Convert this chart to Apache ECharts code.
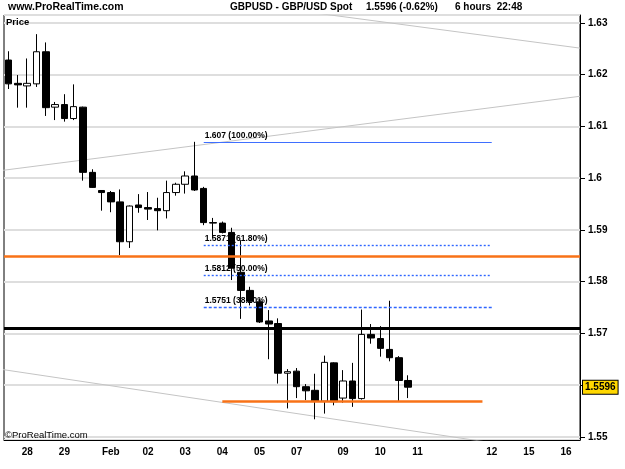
<!DOCTYPE html>
<html lang="en" style="height: 100%">
<head>
  <meta charset="utf-8">
</head>
<body style="height: 100%; margin: 0; background: #fff">
  <div id="container" style="width: 625px; height: 469px"></div>
  <script type="text/javascript" src="https://cdn.jsdelivr.net/npm/echarts@6/dist/echarts.min.js"></script>
  <script type="text/javascript">
    // 6-hour candles, GBPUSD: [open, close, low, high]
    var candles = [
      [1.6228, 1.6182, 1.6172, 1.6245], [1.6183, 1.6180, 1.6136, 1.6199], [1.6178, 1.6183, 1.6136, 1.6231],
      [1.6182, 1.6244, 1.6176, 1.6278], [1.6244, 1.6136, 1.6120, 1.6262], [1.6137, 1.6142, 1.6112, 1.6147],
      [1.6142, 1.6115, 1.6109, 1.6162], [1.6115, 1.6138, 1.6112, 1.6181], [1.6137, 1.6011, 1.5995, 1.6138],
      [1.6011, 1.5982, 1.5981, 1.6017], [1.5976, 1.5972, 1.5937, 1.5976], [1.5972, 1.5954, 1.5934, 1.5975],
      [1.5954, 1.5877, 1.5851, 1.5978], [1.5877, 1.5946, 1.5865, 1.5947], [1.5948, 1.5943, 1.5933, 1.5969],
      [1.5943, 1.5940, 1.5919, 1.5973], [1.5941, 1.5937, 1.5899, 1.5962], [1.5937, 1.5972, 1.5922, 1.5995],
      [1.5972, 1.5988, 1.5966, 1.5991], [1.5988, 1.6004, 1.5970, 1.6013], [1.6004, 1.5977, 1.5975, 1.6070],
      [1.5980, 1.5914, 1.5909, 1.5983], [1.5914, 1.5913, 1.5883, 1.5923], [1.5913, 1.5895, 1.5893, 1.5916],
      [1.5895, 1.5826, 1.5803, 1.5904], [1.5818, 1.5783, 1.5728, 1.5880], [1.5783, 1.5762, 1.5754, 1.5790],
      [1.5761, 1.5722, 1.5720, 1.5767], [1.5724, 1.5718, 1.5650, 1.5745], [1.5719, 1.5623, 1.5603, 1.5729],
      [1.5623, 1.5626, 1.5555, 1.5631], [1.5627, 1.5597, 1.5575, 1.5633], [1.5597, 1.5589, 1.5571, 1.5602],
      [1.5590, 1.5569, 1.5534, 1.5622], [1.5569, 1.5644, 1.5545, 1.5657], [1.5643, 1.5568, 1.5561, 1.5644],
      [1.5575, 1.5608, 1.5566, 1.5629], [1.5608, 1.5574, 1.5558, 1.5643], [1.5574, 1.5698, 1.5572, 1.5746],
      [1.5698, 1.5691, 1.5680, 1.5718], [1.5690, 1.5671, 1.5655, 1.5714], [1.5669, 1.5653, 1.5646, 1.5763],
      [1.5653, 1.5609, 1.5569, 1.5656], [1.5609, 1.5596, 1.5575, 1.5619]
    ];
    var slotCount = 62; // includes empty future slots
    var dayLabels = ['28', '29', 'Feb', '02', '03', '04', '05', '07', '09', '10', '11', '12', '15', '16'];
    var dayLabelSlots = [2, 6, 11, 15, 19, 23, 27, 31, 36, 40, 44, 52, 56, 60];
    var lastPrice = 1.5596;

    // horizontal levels
    var supportLevel = 1.5848;   // orange, full width
    var resistLevel = 1.5709;    // black, full width
    var lowLevel = 1.5568;       // orange segment
    var lowLevelSlots = [23, 51];
    var fibLevels = [1.607, 1.5871, 1.5812, 1.5751];
    var fibLabels = ['1.607 (100.00%)', '1.5871 (61.80%)', '1.5812 (50.00%)', '1.5751 (38.20%)'];
    var fibTypes = ['solid', [2, 2], [2, 2], [3, 2]];
    var fibSlots = [21, 52];

    // trend lines: [slot, price] end points
    var trendLines = [
      [[25, 1.6338], [61.5, 1.6251]],
      [[-0.6, 1.6015], [61.5, 1.6158]],
      [[-0.6, 1.5630], [53, 1.5486]]
    ];

    var font = 'Liberation Sans, Arial, sans-serif';
    var categories = [];
    for (var i = 0; i < slotCount; i++) categories.push('c' + i);
    var labelAt = {};
    dayLabelSlots.forEach(function (s, k) { labelAt[s] = dayLabels[k]; });

    var markData = [
      { yAxis: supportLevel, lineStyle: { color: '#f87217', width: 2.5, type: 'solid' } },
      { yAxis: resistLevel, lineStyle: { color: '#000', width: 3, type: 'solid' } },
      [
        { coord: ['c' + lowLevelSlots[0], lowLevel], lineStyle: { color: '#f87217', width: 2.5, type: 'solid' } },
        { coord: ['c' + lowLevelSlots[1], lowLevel] }
      ],
      {
        yAxis: lastPrice,
        lineStyle: { color: 'rgba(0,0,0,0)', width: 0 },
        label: {
          show: true, position: 'end', distance: 3, formatter: String(lastPrice),
          backgroundColor: '#ffd700', borderColor: '#000', borderWidth: 1, padding: [2, 2, 1, 2],
          color: '#000', fontWeight: 'bold', fontSize: 10, fontFamily: font
        }
      }
    ];
    fibLevels.forEach(function (lv, k) {
      markData.push([
        {
          coord: ['c' + fibSlots[0], lv],
          lineStyle: { color: k === 0 ? '#3f6fff' : '#2f66ff', width: k === 0 ? 1 : 1.4, type: fibTypes[k] },
          label: {
            show: true, position: 'insideStartTop', distance: [1, 2], formatter: fibLabels[k],
            color: '#000', fontWeight: 'bold', fontSize: 8.5, fontFamily: font
          }
        },
        { coord: ['c' + fibSlots[1], lv] }
      ]);
    });

    var series = [{
      type: 'candlestick',
      xAxisIndex: 0,
      z: 3,
      barWidth: 7,
      data: candles,
      itemStyle: { color: '#fff', color0: '#000', borderColor: '#000', borderColor0: '#000', borderWidth: 1 },
      markLine: {
        silent: true, symbol: 'none', animation: false, precision: 4,
        label: { show: false },
        data: markData
      }
    }];
    trendLines.forEach(function (tl) {
      series.push({
        type: 'line', xAxisIndex: 1, z: 1, symbol: 'none', silent: true, clip: true,
        lineStyle: { color: '#c4c4c4', width: 1 },
        data: tl
      });
    });

    var chart = echarts.init(document.getElementById('container'), null, { renderer: 'canvas' });
    var option = {
      animation: false,
      backgroundColor: '#fff',
      grid: { left: 4, top: 15, width: 576, height: 425, show: true, borderColor: '#000', borderWidth: 1, backgroundColor: '#fff' },
      xAxis: [{
        type: 'category',
        data: categories,
        boundaryGap: true,
        axisLine: { onZero: false, lineStyle: { color: '#000', width: 1 } },
        axisTick: { show: false },
        splitLine: { show: false },
        axisLabel: {
          interval: function (index) { return labelAt[index] !== undefined; },
          formatter: function (v, index) { return labelAt[index] || ''; },
          color: '#000', fontWeight: 'bold', fontSize: 10, fontFamily: font, margin: 7
        }
      }, {
        type: 'value', min: -0.5, max: slotCount - 0.5, show: false
      }],
      yAxis: {
        type: 'value',
        position: 'right',
        min: 1.5494,
        max: 1.6315,
        splitNumber: 8,
        axisLine: { show: true, onZero: false, lineStyle: { color: '#000', width: 1 } },
        axisTick: { show: true, length: 5, lineStyle: { color: '#000' } },
        axisLabel: {
          showMinLabel: false, showMaxLabel: false,
          color: '#000', fontWeight: 'bold', fontSize: 10, fontFamily: font, margin: 8
        },
        splitLine: { show: true, lineStyle: { color: '#dedede', width: 2 } }
      },
      graphic: [
        { type: 'text', left: 8, top: 2, style: { text: 'www.ProRealTime.com', font: 'bold 10.5px ' + font, fill: '#000' } },
        { type: 'text', left: 230, top: 2, style: { text: 'GBPUSD - GBP/USD Spot', font: 'bold 10px ' + font, fill: '#000' } },
        { type: 'text', left: 366, top: 2, style: { text: '1.5596 (-0.62%)', font: 'bold 10px ' + font, fill: '#000' } },
        { type: 'text', left: 455, top: 2, style: { text: '6 hours  22:48', font: 'bold 10px ' + font, fill: '#000' } },
        { type: 'text', left: 6, top: 17, z: 10, style: { text: 'Price', font: 'bold 9.5px ' + font, fill: '#000' } },
        { type: 'text', left: 5, top: 430, z: 10, style: { text: '\u00a9ProRealTime.com', font: '9.5px ' + font, fill: '#000' } }
      ],
      series: series
    };
    chart.setOption(option);
    window.addEventListener('resize', chart.resize);
  </script>
</body>
</html>
